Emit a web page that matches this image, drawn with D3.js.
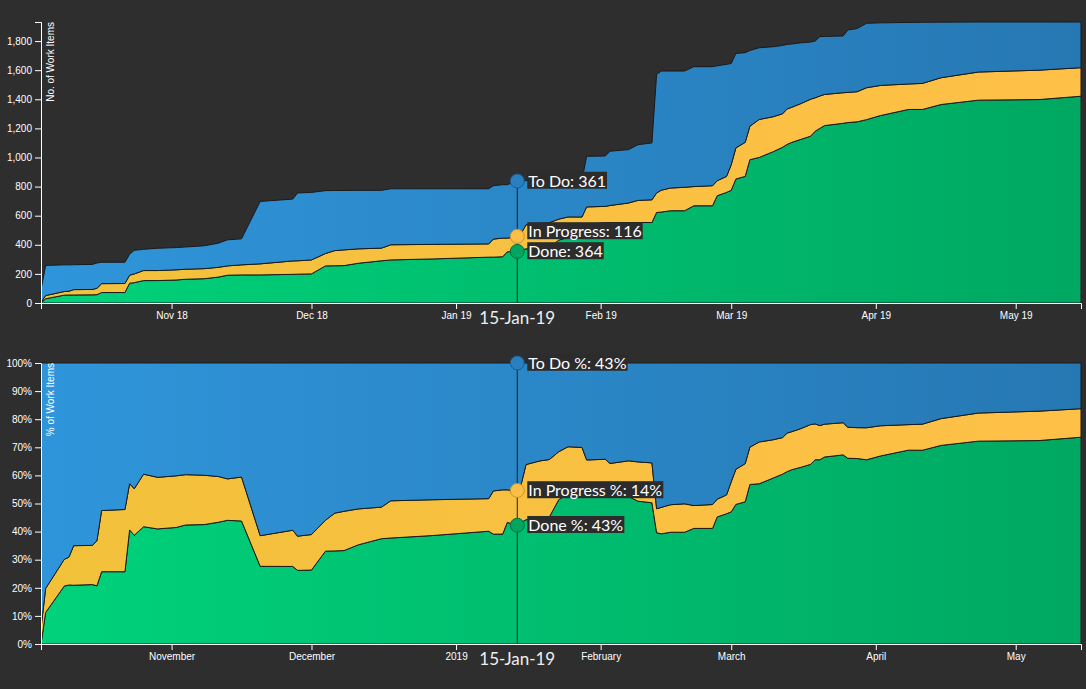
<!DOCTYPE html>
<html>
<head>
<meta charset="utf-8">
<script src="https://cdn.jsdelivr.net/npm/d3@7"></script>
<style>
  html, body { margin: 0; padding: 0; background: #2e2e2e; }
  svg { display: block; }
  .axis text { fill: #ffffff; font: 10px "Liberation Sans", Arial, sans-serif; }
  .axis path, .axis line { stroke: #ffffff; }
  .ylab { fill: #ffffff; font: 10px "Liberation Sans", Arial, sans-serif; }
  .tip { fill: #ffffff; font: 16px Lato, "Noto Sans", sans-serif; }
  .dlab { fill: #eeeeee; font: 17px Lato, "Noto Sans", sans-serif; }
</style>
</head>
<body>
<svg id="chart" width="1086" height="689"></svg>
<script>
// ---------------- data ----------------
const dates = [
  "2018-10-04","2018-10-05","2018-10-09","2018-10-10","2018-10-11","2018-10-15","2018-10-16","2018-10-17",
  "2018-10-22","2018-10-23","2018-10-24","2018-10-26","2018-10-29","2018-11-02","2018-11-04","2018-11-08",
  "2018-11-11","2018-11-13","2018-11-16","2018-11-20","2018-11-27","2018-11-28","2018-12-01","2018-12-04",
  "2018-12-06","2018-12-08","2018-12-11","2018-12-16","2018-12-18","2018-12-27","2019-01-08","2019-01-09",
  "2019-01-11","2019-01-12","2019-01-14","2019-01-15","2019-01-16","2019-01-19","2019-01-21","2019-01-23",
  "2019-01-25","2019-01-28","2019-01-29","2019-02-02","2019-02-03","2019-02-07","2019-02-09","2019-02-12",
  "2019-02-13","2019-02-14","2019-02-16","2019-02-19","2019-02-21","2019-02-25","2019-02-26","2019-02-28",
  "2019-03-01","2019-03-02","2019-03-04","2019-03-05","2019-03-07","2019-03-10","2019-03-12","2019-03-13",
  "2019-03-14","2019-03-16","2019-03-18","2019-03-19","2019-03-20","2019-03-21","2019-03-25","2019-03-26",
  "2019-03-28","2019-03-30","2019-04-02","2019-04-08","2019-04-11","2019-04-15","2019-04-23","2019-05-06",
  "2019-05-15"
];
const done = [
  0, 29, 54, 55, 55, 56, 57, 72,
  72, 136, 140, 154, 154, 158, 163, 167,
  178, 191, 193, 193, 197, 198, 200, 255,
  256, 257, 273, 290, 296, 303, 315, 315,
  318, 352, 353, 364, 372, 378, 380, 432,
  450, 470, 540, 553, 553, 553, 553, 553,
  622, 625, 634, 634, 668, 668, 737, 760,
  774, 852, 870, 985, 1000, 1040, 1070, 1090,
  1104, 1125, 1146, 1180, 1200, 1219, 1235, 1240,
  1245, 1260, 1288, 1330, 1330, 1364, 1394, 1398,
  1421
];
const inProgress = [
  5, 22, 25, 26, 37, 37, 44, 61,
  62, 55, 60, 69, 69, 70, 69, 69,
  67, 64, 69, 76, 92, 92, 96, 85,
  104, 108, 99, 87, 104, 100, 91, 124,
  128, 94, 102, 116, 165, 170, 172, 144,
  141, 121, 120, 111, 117, 134, 152, 156,
  134, 150, 156, 161, 132, 138, 103, 110,
  176, 214, 234, 230, 261, 240, 230, 244,
  241, 246, 254, 230, 222, 214, 210, 207,
  207, 219, 207, 175, 179, 184, 193, 202,
  196
];
const toDo = [
  85, 207, 183, 181, 171, 172, 174, 147,
  146, 144, 162, 146, 153, 153, 153, 157,
  166, 179, 179, 429, 425, 466, 464, 432,
  413, 408, 402, 397, 385, 382, 379, 367,
  367, 367, 383, 361, 304, 293, 289, 266,
  251, 254, 348, 346, 373, 367, 383, 391,
  815, 819, 804, 799, 824, 818, 790, 770,
  696, 649, 616, 520, 493, 481, 470, 443,
  435, 417, 393, 390, 408, 399, 390, 429,
  434, 443, 430, 423, 420, 382, 344, 331,
  314
];
const seriesKeys = ["done", "inProgress", "toDo"];
const seriesLabels = { done: "Done", inProgress: "In Progress", toDo: "To Do" };
const seriesColors = {
  done:       ["#00d27b", "#00a862"],
  inProgress: ["#f2c13a", "#ffc048"],
  toDo:       ["#2f95da", "#2678b3"]
};
const markerColors = {
  done:       ["#00a55f", "#0b6b40"],
  inProgress: ["#fbbf47", "#c8922c"],
  toDo:       ["#2a7fc0", "#1d5b8c"]
};
const yLabels = ["No. of Work Items", "% of Work Items"];
const hoverMouse = "2019-01-14T03:00";
const hoverLabel = "15-Jan-19";

// ---------------- build ----------------
const parse = d3.timeParse("%Y-%m-%d");
const rows = dates.map((d, i) => ({ date: parse(d), done: done[i], inProgress: inProgress[i], toDo: toDo[i] }));
const pct = rows.map(d => {
  const t = d.done + d.inProgress + d.toDo;
  return { date: d.date, done: d.done / t, inProgress: d.inProgress / t, toDo: d.toDo / t };
});
const stack = d3.stack().keys(seriesKeys);

const svg = d3.select("#chart");
const W = 1040, H = 281;
const x = d3.scaleTime().domain(d3.extent(rows, d => d.date)).range([0, W]);
const mouseDate = d3.isoParse(hoverMouse + ":00");

const defs = svg.append("defs");
seriesKeys.forEach(k => {
  const g = defs.append("linearGradient").attr("id", "grad-" + k)
    .attr("gradientUnits", "userSpaceOnUse").attr("x1", 0).attr("x2", W).attr("y1", 0).attr("y2", 0);
  g.append("stop").attr("offset", "0%").attr("stop-color", seriesColors[k][0]);
  g.append("stop").attr("offset", "100%").attr("stop-color", seriesColors[k][1]);
});

function drawPanel(top, dataRows, isPct) {
  const g = svg.append("g").attr("transform", `translate(41,${top})`);
  const series = stack(dataRows);
  const yMax = isPct ? 1 : d3.max(series[series.length - 1], d => d[1]);
  const y = d3.scaleLinear().domain([0, yMax]).range([H, 0]);

  const area = d3.area().x(d => x(d.data.date)).y0(d => y(d[0])).y1(d => y(d[1]));
  g.selectAll("path.layer").data(series).join("path")
    .attr("class", "layer")
    .attr("d", area)
    .attr("fill", s => `url(#grad-${s.key})`)
    .attr("stroke", "#1a1a1a").attr("stroke-width", 1).attr("stroke-linejoin", "round");

  g.append("g").attr("class", "axis").attr("transform", `translate(0,${H})`)
    .call(isPct ? d3.axisBottom(x) : d3.axisBottom(x).tickFormat(d3.timeFormat("%b %y")));
  g.append("g").attr("class", "axis")
    .call(d3.axisLeft(y).ticks(10).tickFormat(isPct ? d3.format(".0%") : d3.format(",")));

  g.append("text").attr("class", "ylab").attr("transform", "rotate(-90)")
    .attr("y", 6).attr("dy", ".71em").style("text-anchor", "end")
    .text(yLabels[isPct ? 1 : 0]);

  // hover state
  const mx = x(mouseDate);
  const idx = d3.bisector(d => d.date).left(dataRows, mouseDate);
  const a = idx - 1, b = idx;
  const t = (mouseDate - dataRows[a].date) / (dataRows[b].date - dataRows[a].date);
  const pos = {};
  series.forEach(s => { pos[s.key] = s[a][1] + (s[b][1] - s[a][1]) * t; });
  const row = dataRows[b];

  g.append("line").attr("x1", mx).attr("x2", mx)
    .attr("y1", y(pos.toDo)).attr("y2", H)
    .attr("stroke", "#1e1e1e").attr("stroke-width", 1);

  // label positions: keep at least 20px between neighbouring labels
  const order = ["toDo", "inProgress", "done"];
  const ly = {};
  let below = Infinity;
  for (let i = order.length - 1; i >= 0; i--) {
    const k = order[i];
    let v = y(pos[k]);
    if (v > below - 20) v = below - 20;
    ly[k] = v; below = v;
  }

  order.forEach(k => {
    const cy = y(pos[k]);
    g.append("circle").attr("cx", mx).attr("cy", cy).attr("r", 7)
      .attr("fill", markerColors[k][0]).attr("stroke", markerColors[k][1]).attr("stroke-width", 1);
  });
  order.forEach(k => {
    const txt = isPct
      ? `${seriesLabels[k]} %: ${Math.round(row[k] * 100)}%`
      : `${seriesLabels[k]}: ${row[k]}`;
    const lab = g.append("g");
    const rect = lab.append("rect").attr("fill", "#2c2c2c");
    const tx = lab.append("text").attr("class", "tip").attr("x", mx + 11).attr("y", ly[k]).attr("dy", ".36em").text(txt);
    const bb = tx.node().getBBox();
    rect.attr("x", bb.x - 1).attr("y", bb.y + 1).attr("width", bb.width + 2).attr("height", bb.height - 2);
  });

  g.append("text").attr("class", "dlab").attr("x", mx).attr("y", H + 21)
    .attr("text-anchor", "middle").text(hoverLabel);
}

drawPanel(22, rows, false);
drawPanel(363, pct, true);
</script>
</body>
</html>
